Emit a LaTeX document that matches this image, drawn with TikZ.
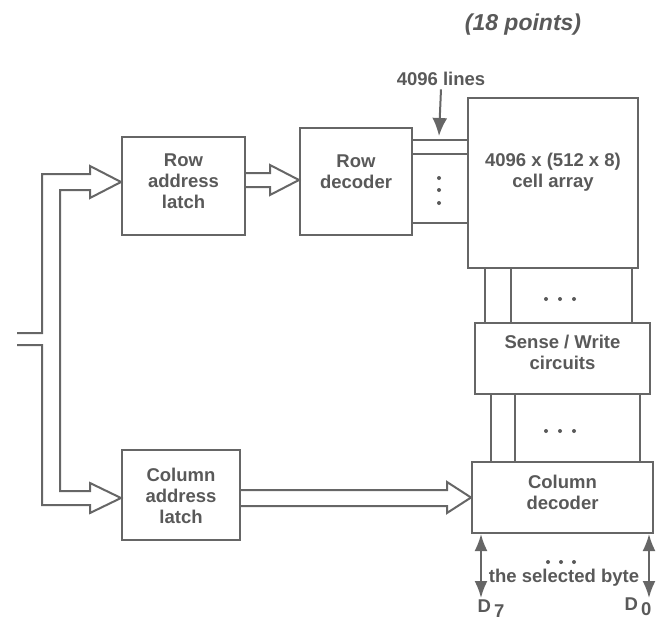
\documentclass[tikz,border=0pt]{standalone}
\usepackage{fontspec}
\setmainfont{Liberation Sans}
\usetikzlibrary{arrows.meta,calc}
\tikzset{
  block/.style={rectangle, draw=black!60, line width=2pt, inner sep=0pt},
  txt/.style={align=center, text=black!65,
              font=\fontsize{18.5}{21}\selectfont\bfseries},
  bus/.style={draw=black!60, line width=2pt, line join=miter},
  wire/.style={draw=black!60, line width=2pt},
  dot/.style={circle, fill=black!65, inner sep=0pt, minimum size=4pt}
}

\begin{document}
\begin{tikzpicture}[x=1pt, y=-1pt, >={Latex[length=17pt,width=13pt]}]
\useasboundingbox (0,0) rectangle (665,624);

% blocks
\node[block, minimum width=123pt, minimum height=98pt]  (rowlatch) at (183.5,186) {};
\node[block, minimum width=112pt, minimum height=107pt] (rowdec)   at (356,181.5) {};
\node[block, minimum width=170pt, minimum height=170pt] (cells)    at (553,183) {};
\node[block, minimum width=175pt, minimum height=71pt]  (sense)    at (562.5,358.5) {};
\node[block, minimum width=181pt, minimum height=71pt]  (coldec)   at (562.5,497.5) {};
\node[block, minimum width=118pt, minimum height=90pt]  (collatch) at (181,495) {};

% block texts
\node[txt] (rowlatchtxt) at (183.5,181) {Row\\address\\latch};
\node[txt] (rowdectxt)   at (356,172)   {Row\\decoder};
\node[txt] (cellstxt)    at (553,172)   {4096 x (512 x 8)\\cell array};
\node[txt] (sensetxt)    at (562.5,352) {Sense / Write\\circuits};
\node[txt] (coldectxt)   at (562.5,492) {Column\\decoder};
\node[txt] (collatchtxt) at (181,496)   {Column\\address\\latch};

% title
\node[txt, font=\fontsize{23}{26}\selectfont\bfseries\itshape] (title) at (523,25) {(18 points)};

% address bus, split to both latches
\coordinate (rtip) at (rowlatch.west |- 0,182);
\coordinate (ctip) at (collatch.west |- 0,498);
\draw[bus] (17,333) -- (42,333) -- (42,174) -- (90,174) -- (90,166)
  -- (rtip) -- (90,198) -- (90,190) -- (60,190) -- (60,491)
  -- (90,491) -- (90,483) -- (ctip) -- (90,513) -- (90,505)
  -- (42,505) -- (42,345) -- (17,345);

% row latch -> row decoder
\draw[bus] (rowlatch.east |- 0,173) -- (270,173) -- (270,165)
  -- (rowdec.west |- 0,180) -- (270,195) -- (270,187) -- (rowlatch.east |- 0,187);

% column latch -> column decoder
\draw[bus] (collatch.east |- 0,490) -- (447,490) -- (447,482)
  -- (coldec.west) -- (447,513) -- (447,506) -- (collatch.east |- 0,506);

% word lines
\draw[wire] (rowdec.east |- 0,140) -- (cells.west |- 0,140);
\draw[wire] (rowdec.east |- 0,154) -- (cells.west |- 0,154);
\draw[wire] (rowdec.east |- 0,223) -- (cells.west |- 0,223);
\node[dot] (wd1) at (439,178) {};
\node[dot] (wd2) at (439,190) {};
\node[dot] (wd3) at (439,203) {};
\node[txt] (lines) at (441,79) {4096 lines};
\draw[wire, -{Latex[length=18pt,width=15pt]}] (lines.south) -- (439,136);

% bit lines, cells -> sense/write
\draw[wire] (cells.south -| 485,0) -- (sense.north -| 485,0);
\draw[wire] (cells.south -| 511,0) -- (sense.north -| 511,0);
\draw[wire] (cells.south -| 632,0) -- (sense.north -| 632,0);
\node[dot] (bd1) at (546,299) {};
\node[dot] (bd2) at (560,299) {};
\node[dot] (bd3) at (574,299) {};

% sense/write -> column decoder
\draw[wire] (sense.south -| 491,0) -- (coldec.north -| 491,0);
\draw[wire] (sense.south -| 515,0) -- (coldec.north -| 515,0);
\draw[wire] (sense.south -| 640,0) -- (coldec.north -| 640,0);
\node[dot] (sd1) at (546,431) {};
\node[dot] (sd2) at (560,431) {};
\node[dot] (sd3) at (574,431) {};

% data lines
\coordinate (d7) at (481,598);
\coordinate (d0) at (649,598);
\draw[wire, <->] (coldec.south -| d7) -- (d7);
\draw[wire, <->] (coldec.south -| d0) -- (d0);
\node[dot] (dd1) at (548,562) {};
\node[dot] (dd2) at (561,562) {};
\node[dot] (dd3) at (574,562) {};
\node[txt] (byte) at (564,578) {the selected byte};
\node[txt] (D7) at (491,609) {D\,\raisebox{-5pt}{7}};
\node[txt] (D0) at (638,607) {D\,\raisebox{-5pt}{0}};

\end{tikzpicture}
\end{document}
